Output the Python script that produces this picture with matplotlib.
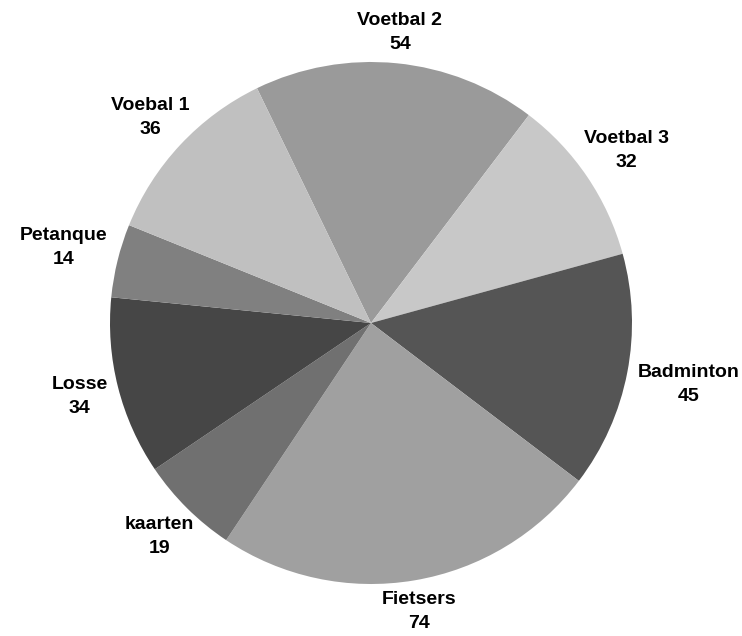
import numpy as np
import matplotlib.pyplot as plt

labels = ['Voetbal 2', 'Voetbal 3', 'Badminton', 'Fietsers', 'kaarten', 'Losse', 'Petanque', 'Voebal 1']
values = [54, 32, 45, 74, 19, 34, 14, 36]
colors = ['#9a9a9a', '#c8c8c8', '#555555', '#a0a0a0', '#707070', '#464646', '#808080', '#c0c0c0']

W, H = 742, 636
cx, cy, R = 371, 323, 261  # pie centre / radius in pixels

fig = plt.figure(figsize=(W / 100, H / 100), dpi=100)
ax = fig.add_axes([0, 0, 1, 1])
wedges, _ = ax.pie(values, colors=colors, startangle=115.9, counterclock=False,
                   radius=1, wedgeprops=dict(linewidth=0))
ax.set_xlim(-cx / R, (W - cx) / R)
ax.set_ylim(-(H - cy) / R, cy / R)
ax.set_aspect('equal')
ax.axis('off')

# labels outside the wedges, pushed out by half their box size
texts = []
for w, lab, v in zip(wedges, labels, values):
    t = ax.text(0, 0, '%s\n%d' % (lab, v), ha='center', va='center',
                fontsize=14, fontweight='bold', family=['Liberation Sans', 'DejaVu Sans'],
                color='black', linespacing=1.55)
    texts.append((w, t))

fig.canvas.draw()
r = fig.canvas.get_renderer()
inv = ax.transData.inverted()
gap = 0.04
for w, t in texts:
    bb = t.get_window_extent(r)
    p0 = inv.transform((bb.x0, bb.y0))
    p1 = inv.transform((bb.x1, bb.y1))
    hw = (p1[0] - p0[0]) / 2
    hh = (p1[1] - p0[1]) / 2
    a = np.radians((w.theta1 + w.theta2) / 2)
    c, s = np.cos(a), np.sin(a)
    d = min(hw / max(abs(c), 1e-6), hh / max(abs(s), 1e-6))
    rr = 1 + gap + d
    t.set_position((rr * c, rr * s))

fig.savefig('out.png', dpi=100, facecolor='white')
